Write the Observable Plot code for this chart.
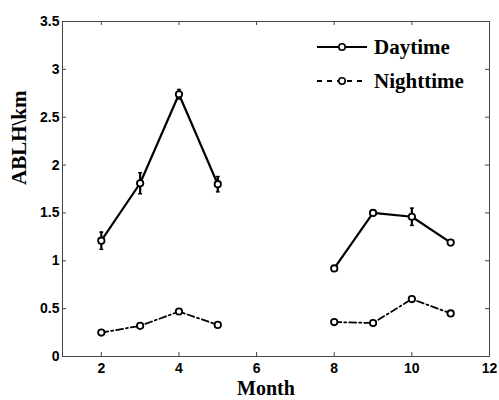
<!DOCTYPE html>
<html>
<head>
<meta charset="utf-8">
<script src="https://cdn.jsdelivr.net/npm/d3@7"></script>
<script src="https://cdn.jsdelivr.net/npm/@observablehq/plot@0.6"></script>
<style>
  html, body { margin: 0; padding: 0; background: #fff; }
  #wrap { position: relative; width: 499px; height: 400px; }
  #legend { position: absolute; left: 316px; top: 30px; font-family: "Liberation Serif", "Times New Roman", serif; font-weight: bold; font-size: 21px; color: #000; }
  .item { display: flex; align-items: center; height: 34px; }
  .item svg { margin-right: 6px; }
</style>
</head>
<body>
<div id="wrap"></div>
<script>
// ---- data ----
const months = [2, 3, 4, 5, 8, 9, 10, 11];
const season = ["spring", "spring", "spring", "spring", "autumn", "autumn", "autumn", "autumn"];
const daytime = [1.21, 1.81, 2.74, 1.80, 0.92, 1.50, 1.46, 1.19];
const daytimeErr = [0.09, 0.11, 0.05, 0.08, 0.02, 0.02, 0.09, 0.02];
const nighttime = [0.25, 0.32, 0.47, 0.33, 0.36, 0.35, 0.60, 0.45];
const nighttimeErr = [0.02, 0.02, 0.02, 0.02, 0.02, 0.02, 0.02, 0.02];
const xTicks = [2, 4, 6, 8, 10, 12];
const yTicks = [0, 0.5, 1, 1.5, 2, 2.5, 3, 3.5];
const seriesNames = ["Daytime", "Nighttime"];
const xLabel = "Month";
const yLabel = "ABLH\\km";

const day = months.map((m, i) => ({month: m, seg: season[i], v: daytime[i], e: daytimeErr[i]}));
const night = months.map((m, i) => ({month: m, seg: season[i], v: nighttime[i], e: nighttimeErr[i]}));

const W = 499, H = 400, mL = 62, mR = 10, mT = 21, mB = 44;
const innerW = W - mL - mR, innerH = H - mT - mB;
const axisColor = "#444";
const tickFont = "'Liberation Sans', Arial, sans-serif";
const labelFont = "'Liberation Serif', 'Times New Roman', serif";
const nightDash = "7,3,2,3";

function errMarks(data, sw) {
  return [
    Plot.ruleX(data, {x: "month", y1: d => d.v - d.e, y2: d => d.v + d.e, stroke: "#000", strokeWidth: sw}),
    Plot.link(data, {x1: d => d.month - 0.05, x2: d => d.month + 0.05, y1: d => d.v - d.e, y2: d => d.v - d.e, stroke: "#000", strokeWidth: 1.5}),
    Plot.link(data, {x1: d => d.month - 0.05, x2: d => d.month + 0.05, y1: d => d.v + d.e, y2: d => d.v + d.e, stroke: "#000", strokeWidth: 1.5})
  ];
}

const chart = Plot.plot({
  width: W, height: H,
  marginLeft: mL, marginRight: mR, marginTop: mT, marginBottom: mB,
  style: {fontFamily: tickFont, fontSize: "14px", fontWeight: "bold", color: "#000", background: "#fff"},
  x: {domain: [1, 12]},
  y: {domain: [0, 3.5]},
  marks: [
    Plot.frame({stroke: axisColor, strokeWidth: 1}),
    // inward ticks on all four sides
    Plot.tickX(xTicks, {x: d => d, insetTop: innerH - 4, stroke: axisColor}),
    Plot.tickX(xTicks, {x: d => d, insetBottom: innerH - 4, stroke: axisColor}),
    Plot.tickY(yTicks, {y: d => d, insetRight: innerW - 4, stroke: axisColor}),
    Plot.tickY(yTicks, {y: d => d, insetLeft: innerW - 4, stroke: axisColor}),
    Plot.axisX({ticks: xTicks, tickSize: 0, tickPadding: 7, label: null, tickFormat: d => d, fill: "#000"}),
    Plot.axisY({ticks: yTicks, tickSize: 0, tickPadding: 3, label: null, tickFormat: d => d, fill: "#000"}),
    // axis titles
    Plot.text([yLabel], {text: d => d, frameAnchor: "left", rotate: -90, dx: -43, dy: -4, fontFamily: labelFont, fontSize: 21, fontWeight: "bold", fill: "black"}),
    Plot.text([xLabel], {text: d => d, frameAnchor: "bottom", dx: -10, dy: 38, fontFamily: labelFont, fontSize: 20, fontWeight: "bold", fill: "black"}),
    // daytime
    ...errMarks(day, 2.2),
    Plot.line(day, {x: "month", y: "v", z: "seg", stroke: "#000", strokeWidth: 2.2}),
    Plot.dot(day, {x: "month", y: "v", r: 3.2, stroke: "#000", fill: "#fff", strokeWidth: 1.8}),
    // nighttime
    ...errMarks(night, 1.5),
    Plot.line(night, {x: "month", y: "v", z: "seg", stroke: "#000", strokeWidth: 1.8, strokeDasharray: nightDash}),
    Plot.dot(night, {x: "month", y: "v", r: 3.2, stroke: "#000", fill: "#fff", strokeWidth: 1.8})
  ]
});

const wrap = document.getElementById("wrap");
wrap.appendChild(chart);

// legend
const legend = document.createElement("div");
legend.id = "legend";
const dashes = [null, "5,5"];
seriesNames.forEach((name, i) => {
  const item = document.createElement("div");
  item.className = "item";
  const svg = d3.create("svg").attr("width", 52).attr("height", 14);
  svg.append("line").attr("x1", 1).attr("x2", 51).attr("y1", 7).attr("y2", 7)
    .attr("stroke", "#000").attr("stroke-width", 1.8).attr("stroke-dasharray", dashes[i]);
  svg.append("circle").attr("cx", 26).attr("cy", 7).attr("r", 3.2)
    .attr("fill", "#fff").attr("stroke", "#000").attr("stroke-width", 1.6);
  item.appendChild(svg.node());
  const span = document.createElement("span");
  span.textContent = name;
  item.appendChild(span);
  legend.appendChild(item);
});
wrap.appendChild(legend);
</script>
</body>
</html>
